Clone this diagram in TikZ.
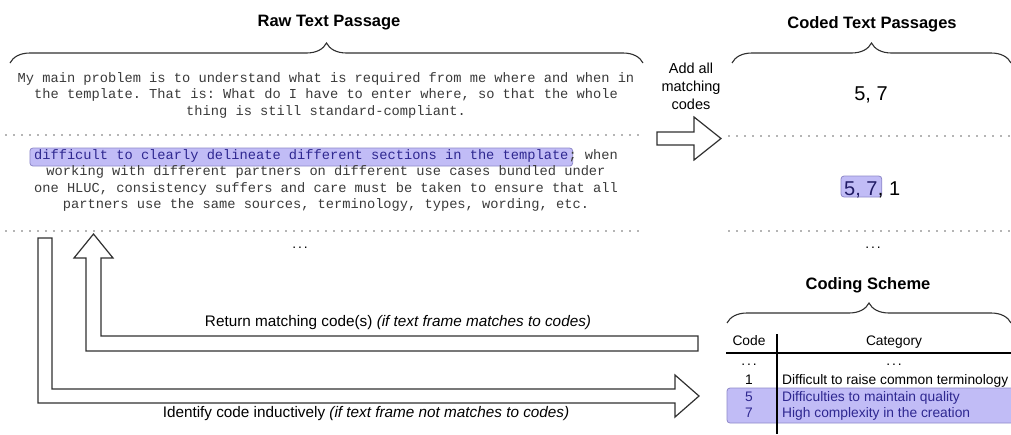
\documentclass[tikz,border=0pt]{standalone}
\usepackage{fontspec}
\setmainfont{Liberation Sans}
\setmonofont{Liberation Mono}
\usetikzlibrary{decorations.pathreplacing,calc,backgrounds}
\definecolor{hlfill}{HTML}{C1BCF6}
\definecolor{hldraw}{HTML}{8F89C9}
\definecolor{hltext}{HTML}{2E2790}
\definecolor{monotext}{HTML}{3A3A3A}
\definecolor{dotc}{HTML}{B5B5B5}
\definecolor{arrowc}{HTML}{303030}
\newcommand{\spdots}{.\hspace{2pt}.\hspace{2pt}.}
\tikzset{
  title/.style={font=\fontsize{16.5}{19}\selectfont\bfseries, inner sep=0pt},
  mono/.style={font=\fontsize{13.7}{16}\selectfont\ttfamily, text=monotext, inner sep=0pt, text height=9.5pt, text depth=3pt},
  sans/.style={font=\fontsize{13.8}{16}\selectfont, inner sep=0pt, text height=10pt, text depth=3pt},
  lbl/.style={font=\fontsize{15.3}{18}\selectfont, inner sep=0pt, text height=11pt, text depth=3.5pt},
  big/.style={font=\fontsize{20}{23}\selectfont, inner sep=0pt},
  dotline/.style={dotc, line width=2pt, dash pattern=on 2pt off 6pt},
  blockarrow/.style={draw=arrowc, line width=1.2pt, fill=white, line join=miter},
  bracestyle/.style={decorate, decoration={brace, amplitude=20pt}, line width=1.1pt, draw=arrowc},
  hlbox/.style={fill=hlfill, draw=hldraw, line width=0.8pt, rounded corners=3pt},
  tline/.style={line width=1.1pt, draw=black}
}
\begin{document}
\begin{tikzpicture}[x=1pt,y=-1pt]
\useasboundingbox (0,0) rectangle (1011,434);

% ---------- titles ----------
\node[title] (traw) at (329,23) {Raw Text Passage};
\node[title] (tcoded) at (872,24) {Coded Text Passages};
\node[title] (tscheme) at (868,285) {Coding Scheme};

% ---------- braces ----------
\draw[bracestyle] (10,63) -- (643,63);
\draw[bracestyle] (732,63) -- (1011,63);
\draw[bracestyle] (727,323) -- (1011,323);

% ---------- raw text ----------
\node[mono] (p1a) at (326,79) {My main problem is to understand what is required from me where and when in};
\node[mono] (p1b) at (326,95.5) {the template. That is: What do I have to enter where, so that the whole};
\node[mono] (p1c) at (326,112) {thing is still standard-compliant.};

\draw[dotline] (5,135) -- (641,135);

\node[mono] (p2a) at (326,156) {\textcolor{hltext}{difficult to clearly delineate different sections in the template}; when};
\node[mono] (p2b) at (326,172.5) {working with different partners on different use cases bundled under};
\node[mono] (p2c) at (326,189) {one HLUC, consistency suffers and care must be taken to ensure that all};
\node[mono] (p2d) at (326,205.5) {partners use the same sources, terminology, types, wording, etc.};
\begin{scope}[on background layer]
  \draw[hlbox] ($(p2a.west)+(-4,-8)$) rectangle ($(p2a.west)!65/71!(p2a.east)+(4,10)$);
\end{scope}

\draw[dotline] (5,231) -- (641,231);
\node[sans] (p3) at (300,245) {\spdots};

% ---------- add arrow ----------
\node[align=center, inner sep=0pt, font=\fontsize{14.5}{18}\selectfont] (addl) at (691,86) {Add all\\matching\\codes};
\draw[blockarrow] (657,132) -- (694,132) -- (694,117) -- (721,138.5) -- (694,160) -- (694,145) -- (657,145) -- cycle;

% ---------- coded passages ----------
\node[big] (c1) at (871,95) {5, 7};
\draw[dotline] (728,136) -- (1011,136);
\node[big, anchor=base west, text=hltext!70!black] (c2a) at (844,195) {5, 7};
\node[big, anchor=base west] (c2b) at (c2a.base east) {, 1};
\begin{scope}[on background layer]
  \draw[hlbox] ($(c2a.base west)+(-3,-19)$) rectangle ($(c2a.base east)+(4,2)$);
\end{scope}
\draw[dotline] (728,231) -- (1011,231);
\node[sans] (c3) at (873,245) {\spdots};

% ---------- coding scheme table ----------
\draw[hlbox] (727,388) rectangle (1014,423);
\node[sans] (hcode) at (749,342) {Code};
\node[sans] (hcat) at (894,342) {Category};
\draw[tline] (726,353) -- (1011,353);
\draw[tline] (777,334) -- (777,434);
\node[sans] (r0a) at (749,362) {\spdots};
\node[sans] (r0b) at (894,362) {\spdots};
\node[sans] (r1a) at (749,381) {1};
\node[sans, anchor=west] (r1b) at (782,381) {Difficult to raise common terminology};
\node[sans, text=hltext] (r5a) at (749,397.5) {5};
\node[sans, anchor=west, text=hltext] (r5b) at (782,397.5) {Difficulties to maintain quality};
\node[sans, text=hltext] (r7a) at (749,413.5) {7};
\node[sans, anchor=west, text=hltext] (r7b) at (782,413.5) {High complexity in the creation};

% ---------- return arrow ----------
\draw[blockarrow] (698,336) -- (101,336) -- (101,258) -- (113,258) -- (93.5,234) -- (74,258) -- (86,258) -- (86,351) -- (698,351) -- cycle;
\node[lbl] (tret) at (398,323) {Return matching code(s) \textit{(if text frame matches to codes)}};

% ---------- identify arrow ----------
\draw[blockarrow] (38,238) -- (52,238) -- (52,389) -- (675,389) -- (675,375) -- (699,396) -- (675,417) -- (675,403) -- (38,403) -- cycle;
\node[lbl] (tid) at (366,414) {Identify code inductively \textit{(if text frame not matches to codes)}};
\end{tikzpicture}
\end{document}
